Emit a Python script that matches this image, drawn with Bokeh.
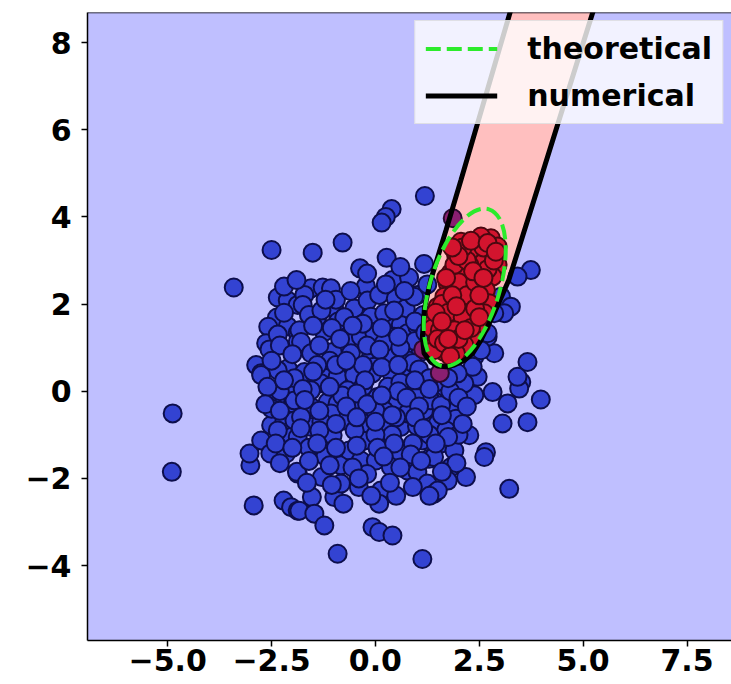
from bokeh.plotting import figure
from bokeh.models import Span, Legend, LegendItem, FixedTicker, CustomJSTickFormatter
from bokeh.embed import file_html
from bokeh.resources import INLINE

# ---------------- data ----------------
blue_x = [-2.50, -3.41, -2.35, -2.11, -1.87, -2.37, -2.58, -2.11, -1.87, -2.63, -2.55, -1.87, -2.87, -2.75, -2.11, -2.35,
          1.19, 0.39, 0.25, 0.15, -0.79, -1.51, 0.27, -0.37, 1.17, 0.41, 0.81, -0.23, -1.55, -1.27, -1.07, -1.71, -1.75,
          -0.99, -0.51, -0.19, 0.09, 0.49, 0.73, 1.01, -0.11, -0.79, 0.29, 0.61, -1.83, -1.23, -0.67, -0.35, -0.03, 0.37,
          0.77, -1.03, -1.79, -1.55, -0.11, -0.59, 0.69, 1.09, -1.71, -1.23, -0.51, -0.03, 0.37, 0.85,
          -4.88, -4.90, -2.93, -2.21, -2.03, -1.87, -3.01, -3.03, -2.75, -2.53, -2.51, -2.15, -2.11, -1.87, -1.87, -2.75,
          -2.35, -2.03, -1.99, -2.19, -1.95,
          -1.89, -1.29, -1.53, -1.83, -1.47, -1.23, -0.91, -0.99, -0.77, -0.83, -0.83, 0.13, 0.09, -0.07, 0.09, 0.41, 1.13,
          -1.87, -1.55, -1.23, -1.03, -0.63, -0.27, -0.35, 0.01, 0.21, 0.61, 0.37, 0.77, 1.01, 1.25, 1.41, 1.13, 1.29,
          -1.95, -1.55, -1.15, -0.75, -0.91, -0.35, 0.05, 0.37, 0.85, 0.61, 0.21, -0.19, 1.33, 1.17, 1.33, -1.31, -0.91,
          -0.51, -0.07, -1.79, -1.55, -0.67, -1.07, 0.53, 0.77, 0.21,
          3.66, 3.51, 3.46, 3.98, 3.18, 3.66, 3.06, 2.86, 2.70, 2.94, 2.66, 2.62, 3.22, 2.18, 2.46, 2.82, 2.38, 2.14, 1.94,
          1.94, 2.26, 1.58, 1.66, 2.38, 1.50, 1.58, 1.90, 1.82, 1.74, 1.50, 1.41,
          3.74, 3.42, 3.02, 3.26, 3.10, 2.86, 0.21, 0.93, 1.01, 2.70, 2.54, 2.34, 3.42, 1.98, 0.45, 0.29, 0.77,
          1.20, 0.95, 0.95, 1.05, 1.45, 1.80, 2.00, 1.70, 2.00, 1.30, 1.00, 0.40, 0.00, -0.50, 0.90, 0.50, 0.00, -0.50,
          -0.30, 0.30, 0.60, -0.80, -1.30, -1.60, -1.20, -0.20, 0.50, -0.40, -1.10, -0.30, 0.20, 0.60, -0.90, -1.40,
          -1.40, -2.30, -2.50,
          -2.20, -1.60, -1.30, -0.75, -0.30, 0.45, 1.15,
          -2.35, -1.50, -1.05, -0.55, 0.15, 0.95, 1.20,
          -2.30, -2.00, -1.35, -0.85, -0.20, 0.10, 0.55, 0.90,
          -2.50, -1.95, -1.50, -0.95, -0.70, -0.25, 0.15, 0.55, 1.05, 1.30,
          -2.60, -2.20, -1.75, -1.10, -0.45, 0.55, 0.95, 1.30, 1.75,
          -2.65, -2.30, -1.70, -1.35, -0.70, -0.20, 0.15, 0.75, 1.05, 1.60, 2.20,
          -2.35, -1.80, -1.35, -0.95, -0.45, 0.00, 0.40, 0.95, 1.15, 1.75, 2.10,
          -2.40, -2.00, -1.40, -0.95, -0.45, 0.05, 0.45, 0.85, 1.45, 1.95,
          -2.30, -1.60, -1.10, -0.55, 0.20, 0.60, 1.10, 1.60,
          -1.65, -1.05, -0.40, 0.35, 0.90, 1.30, -0.10,
          -2.20, -1.90, -0.95, -0.60, -0.20, 0.25, 0.70, 1.25, 0.60, -1.20]
blue_y = [3.24, 2.38, 2.15, 2.08, 1.98, 1.69, 1.48, 1.49, 1.34, 1.10, 0.96, 1.13, 0.60, 0.41, 0.52, 0.48,
          4.48, 4.18, 4.00, 3.87, 3.41, 3.18, 3.06, 2.82, 2.92, 2.55, 2.61, 2.41, 2.36, 2.38, 2.36, 2.21, 1.98,
          1.90, 1.90, 2.08, 2.21, 2.13, 1.90, 2.21, 1.71, 1.48, 1.63, 1.52, 1.40, 1.36, 1.17, 1.25, 1.36, 1.06,
          1.33, 0.90, 1.13, 0.87, 0.79, 0.87, 0.87, 0.90, 0.44, 0.37, 0.44, 0.56, 0.44, 0.37,
          -0.51, -1.85, -2.62, -2.51, -2.66, -2.74, -1.70, -1.43, -1.13, -1.43, -0.78, -1.43, -0.97, -1.17, -1.89, 0.37,
          -0.13, 0.02, -0.28, -0.67, -0.67,
          -1.85, -1.97, -2.43, -2.74, -2.81, -3.08, -3.73, -2.43, -2.58, -2.12, -1.70, -2.28, -2.58, -3.12, -3.23, -3.31, -3.85,
          -1.05, -0.82, -1.05, -1.01, -1.36, -1.13, -1.59, -1.59, -1.13, -1.43, -1.74, -1.82, -1.85, -2.12, -2.35, -1.13, -1.55,
          -0.21, -0.36, -0.25, -0.67, -0.28, -0.13, -0.13, -0.28, 0.18, -0.82, -0.78, -0.74, -0.74, -0.44, -0.21, 0.18, 0.33,
          0.37, 0.41, -0.59, 0.02, 0.02, -0.51, -0.28, -0.51, -0.44,
          0.67, 0.21, 0.06, -0.19, -0.28, -0.71, -0.74, 0.87, 1.25, 1.90, -1.40, -1.51, -2.24, -1.97, 0.33, -0.02, -0.09, 0.18, -0.44,
          -0.63, -1.01, -0.32, 0.10, 0.79, -0.74, -1.20, -1.36, -1.74, -2.05, -2.28, -1.51,
          2.78, 2.63, 2.17, 1.94, 1.79, 1.79, 1.79, 2.17, 1.48, 1.33, 0.94, 0.56, 0.33, 0.41, 1.25, 0.79, 0.71,
          1.20, 1.15, -0.10, 0.25, 0.20, 0.00, -0.15, -0.90, -1.00, -1.00, -0.80, -1.00, -1.00, -0.90, -1.20, -0.60, -0.45, -0.40,
          0.10, 0.10, 0.20, -0.10, -0.70, -1.30, -1.50, -1.90, -2.40, -2.20, 0.70, 0.60, 1.10, 1.00, 1.60, 1.70,
          0.60, 0.00, -0.40,
          1.80, 1.75, 1.85, 1.70, 1.55, 1.85, 1.75,
          1.30, 1.50, 1.45, 1.50, 1.45, 1.60, 1.35,
          1.05, 0.85, 1.05, 1.20, 1.05, 0.95, 1.25, 0.65,
          0.70, 0.30, 0.45, 0.60, 0.70, 0.25, 0.55, 0.60, 0.50, 0.30,
          0.10, 0.25, 0.05, 0.10, -0.05, 0.00, 0.25, 0.05, 0.30,
          -0.30, -0.45, -0.20, -0.45, -0.35, -0.30, -0.10, -0.15, -0.35, -0.55, -0.35,
          -0.90, -0.85, -0.90, -0.75, -0.60, -0.70, -0.55, -0.60, -0.85, -1.05, -0.75,
          -1.20, -1.30, -1.20, -1.30, -1.25, -1.30, -1.20, -1.45, -1.20, -1.65,
          -1.65, -1.60, -1.70, -1.75, -1.50, -1.75, -1.60, -1.85,
          -2.10, -2.15, -2.00, -2.10, -2.20, -2.40, -2.40,
          2.40, 2.55, 2.10, 2.30, 2.70, 2.45, 2.30, 2.45, 2.85, 2.10]

red_x = [2.78, 2.54, 2.26, 2.06, 2.94, 2.82, 2.42, 1.94, 2.58, 2.26, 1.81, 2.94, 2.82, 2.46, 2.14, 1.74, 1.98, 2.30,
         2.66, 1.66, 2.10, 2.46, 2.74, 1.50, 1.90, 2.30, 2.62, 1.41, 1.81, 2.22, 2.54, 1.37, 1.66, 2.02, 2.34, 1.45,
         1.81, 2.14, 1.66, 1.94, 1.41,
         1.60, 2.00, 2.20, 1.90, 2.40, 1.75, 2.10, 2.40, 1.55, 1.90, 2.20, 2.60, 2.70, 1.85, 2.35, 1.70, 1.50, 2.00,
         2.30, 2.50, 2.10, 2.30, 2.85, 1.65, 1.95, 1.80,
         1.45, 2.60, 2.00, 2.70, 1.60, 2.15, 1.75, 2.50, 2.90, 1.85]
red_y = [3.51, 3.55, 3.40, 3.43, 3.32, 3.13, 3.20, 3.13, 2.94, 2.90, 2.71, 2.90, 2.63, 2.63, 2.63, 2.48, 2.36, 2.32,
         2.32, 2.17, 2.09, 2.09, 2.02, 1.94, 1.86, 1.82, 1.79, 1.63, 1.63, 1.52, 1.52, 1.44, 1.33, 1.29, 1.25, 1.13,
         1.10, 1.06, 0.90, 0.87, 0.94,
         2.00, 2.50, 2.20, 2.90, 2.50, 1.80, 1.70, 1.90, 1.40, 1.40, 3.00, 3.30, 2.80, 2.20, 2.75, 2.60, 1.20, 1.20,
         1.45, 2.20, 3.30, 3.45, 3.00, 1.10, 1.95, 0.80,
         1.80, 2.60, 3.10, 3.40, 1.60, 1.40, 1.20, 1.70, 3.20, 3.30]

mixed_x = [1.86, 1.15, 1.55]
mixed_y = [3.97, 0.96, 0.42]

# numerical decision boundary (U shaped contour)
numerical_x = [3.49, 3.24, 2.06, 1.70, 1.33, 1.18, 1.13, 1.17, 1.33, 1.50, 1.70, 1.90, 2.14, 2.34, 2.54, 2.86, 3.21,
               3.54, 3.97, 5.23, 5.50]
numerical_y = [9.50, 8.69, 4.85, 3.70, 2.55, 1.90, 1.25, 0.87, 0.67, 0.58, 0.56, 0.60, 0.71, 0.87, 1.17, 1.79, 2.55,
               3.55, 4.85, 8.69, 9.50]

# theoretical contour (ellipse)
theo_cx = [2.15]
theo_cy = [2.38]
theo_major = [3.94]
theo_minor = [1.59]
theo_angle_deg = [72.8]

x_ticks = [-5.0, -2.5, 0.0, 2.5, 5.0, 7.5]
y_ticks = [-4, -2, 0, 2, 4, 6, 8]
x_lim = (-6.93, 8.57)
y_lim = (-5.72, 8.69)

# ---------------- figure ----------------
p = figure(width=731, height=684, x_range=x_lim, y_range=y_lim,
           output_backend="svg", toolbar_location=None,
           min_border_left=87, min_border_right=0, min_border_top=12, min_border_bottom=44)
p.background_fill_color = "#BFBFFF"
p.border_fill_color = "white"
p.grid.visible = False
p.outline_line_color = None

p.patch(numerical_x, numerical_y, fill_color="#FFBFBF", line_color=None)

p.scatter(blue_x, blue_y, size=18, fill_color="#3343D2", line_color="#0D0E4C", line_width=2)
p.scatter(mixed_x, mixed_y, size=18, fill_color="#8A1F70", line_color="#2A0A30", line_width=2)
p.scatter(red_x, red_y, size=18, fill_color="#D3142E", line_color="#4A0810", line_width=2)

num_r = p.line(numerical_x, numerical_y, line_color="black", line_width=5)
p.ellipse(x=theo_cx, y=theo_cy, width=theo_major, height=theo_minor,
          angle=[a * 3.141592653589793 / 180 for a in theo_angle_deg],
          fill_color=None, line_color="#2CEB2C", line_width=4, line_dash="15 6")
# single-point line used only to give the legend a dashed-line glyph
theo_r = p.line(x=theo_cx, y=theo_cy, line_color="#2CEB2C", line_width=4, line_dash="15 6")

legend = Legend(items=[LegendItem(label="theoretical", renderers=[theo_r]),
                       LegendItem(label="numerical", renderers=[num_r])],
                location="top_right", margin=8, padding=10, spacing=12,
                glyph_width=72, glyph_height=35, label_height=35, label_standoff=30,
                label_text_font="DejaVu Sans", label_text_font_style="bold",
                label_text_font_size="30px", label_text_color="black",
                background_fill_color="white", background_fill_alpha=0.8,
                border_line_color="#CCCCCC", border_line_width=1)
p.add_layout(legend)

p.add_layout(Span(location=y_lim[1], dimension="width", line_color="black", line_width=1.5))

for ax in (p.xaxis, p.yaxis):
    ax.axis_line_color = "black"
    ax.axis_line_width = 1.5
    ax.major_tick_line_color = "black"
    ax.major_tick_line_width = 1.5
    ax.major_tick_out = 6
    ax.major_tick_in = 0
    ax.minor_tick_line_color = None
    ax.major_label_text_font = "DejaVu Sans"
    ax.major_label_text_font_style = "bold"
    ax.major_label_text_font_size = "30px"
    ax.major_label_text_color = "black"

p.xaxis.ticker = FixedTicker(ticks=x_ticks)
p.yaxis.ticker = FixedTicker(ticks=y_ticks)
p.xaxis.formatter = CustomJSTickFormatter(code="return (tick < 0 ? '\u2212' : '') + Math.abs(tick).toFixed(1);")
p.yaxis.formatter = CustomJSTickFormatter(code="return (tick < 0 ? '\u2212' : '') + Math.abs(tick).toFixed(0);")
p.xaxis.major_label_standoff = 2
p.yaxis.major_label_standoff = 10

open("out.html", "w").write(file_html(p, INLINE))
